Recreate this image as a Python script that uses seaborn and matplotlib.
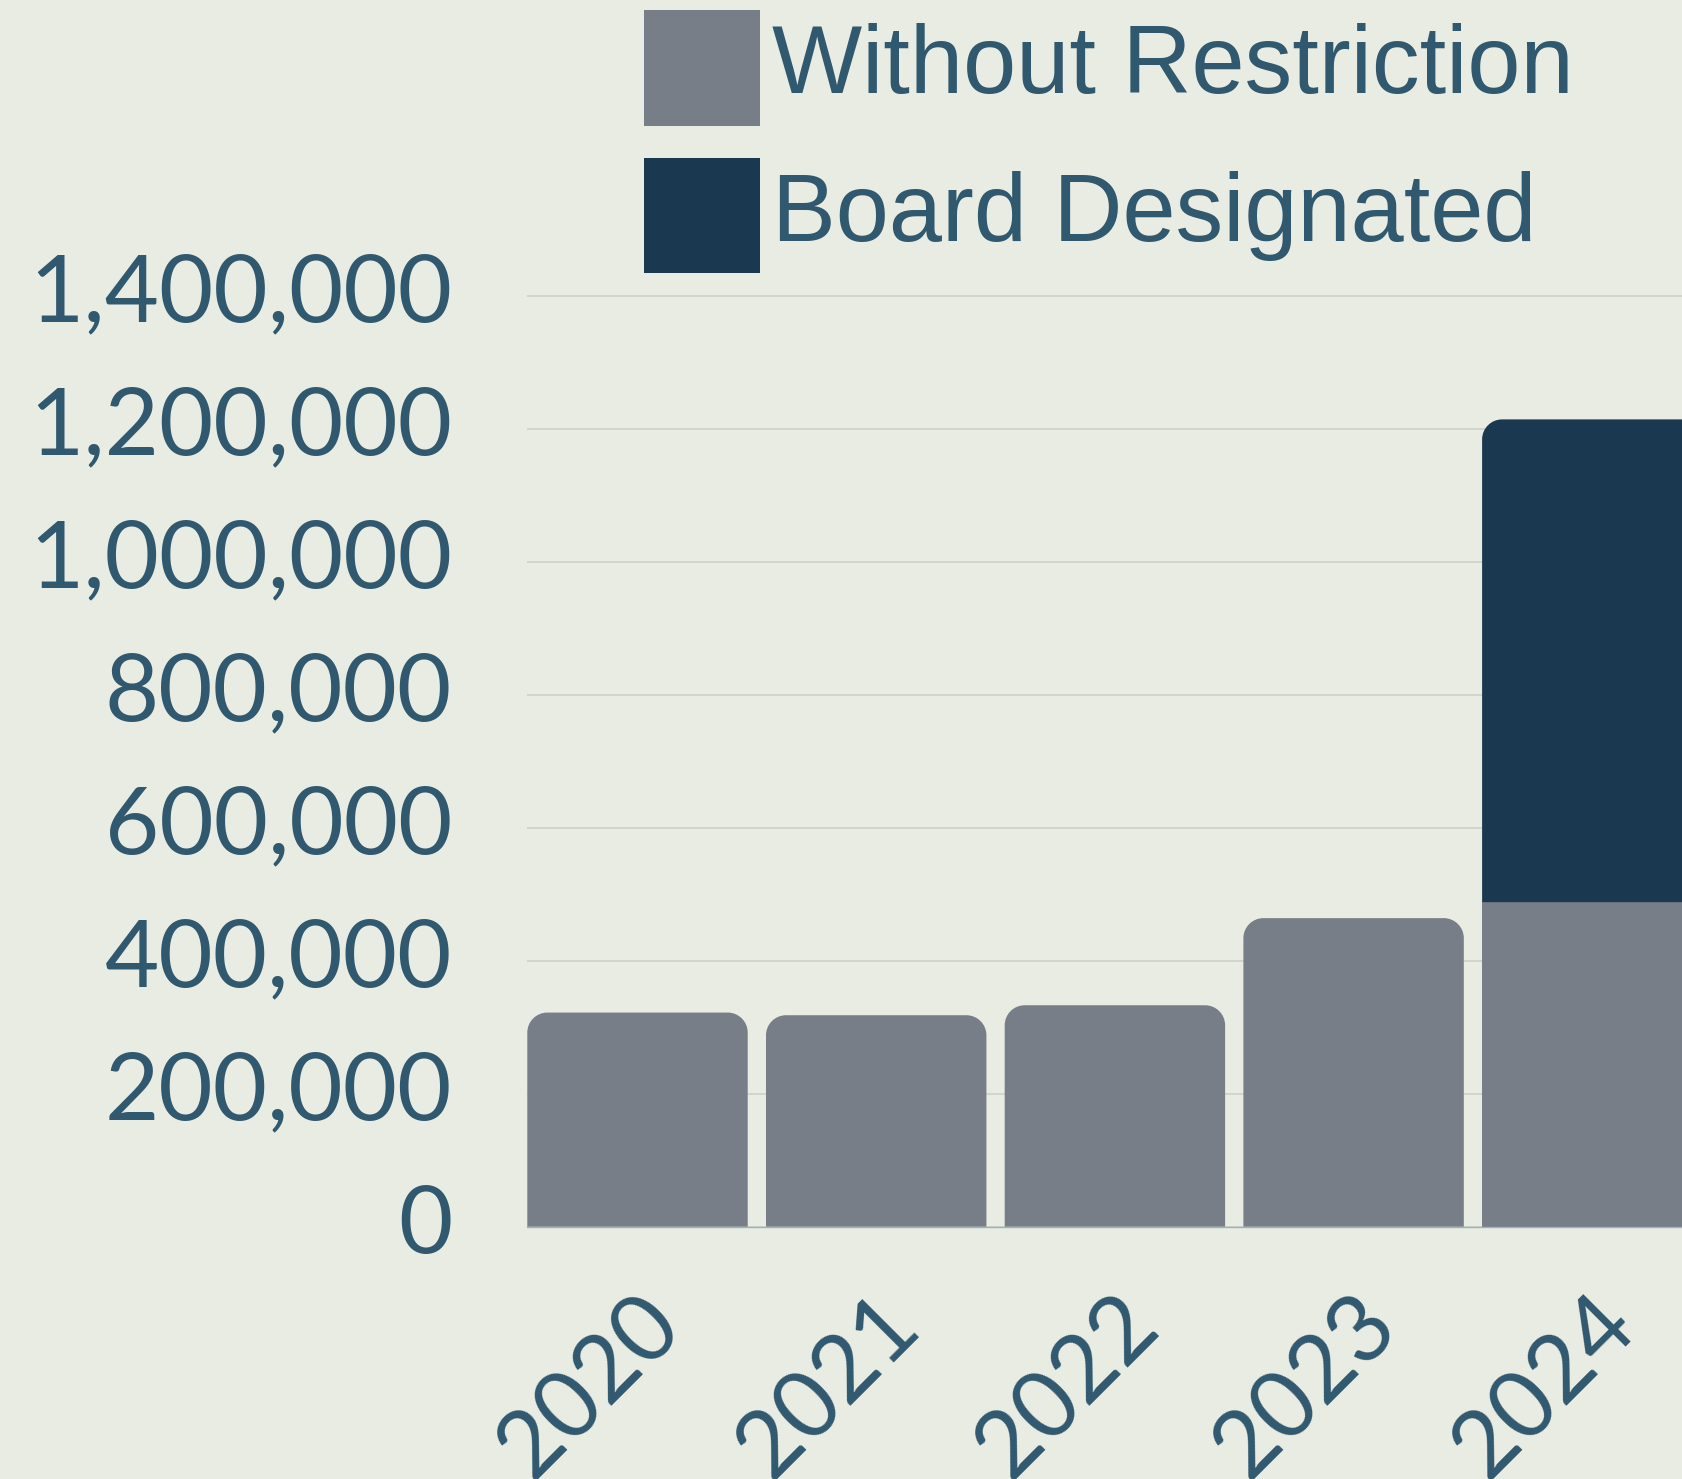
import numpy as np
import pandas as pd
import matplotlib
matplotlib.use("Agg")
import matplotlib.pyplot as plt
import seaborn as sns
from matplotlib.path import Path
from matplotlib.patches import PathPatch, Rectangle
from matplotlib.ticker import FuncFormatter
from matplotlib.transforms import ScaledTranslation

# values
years = ["2020", "2021", "2022", "2023", "2024"]
without_restriction = [322000, 318000, 333000, 464000, 488000]
board_designated = [0, 0, 0, 0, 726000]
y_ticks = [0, 200000, 400000, 600000, 800000, 1000000, 1200000, 1400000]
series_names = ["Without Restriction", "Board Designated"]

BG = "#E9ECE2"
GREY = "#777E87"
DARK = "#1B3851"
TEXT = "#30586F"
GRID = "#CED4CC"

DPI = 100
W_PX, H_PX = 1682, 1479
PX_PER_BAR = 238.7
PX_PER_200K = 133.0
ZERO_Y = 1226.7  # pixel row of the baseline, from the top


def round_top(ax, patch, rx, ry):
    """Swap a bar rectangle for one with rounded top corners"""
    x0, y0 = patch.get_x(), patch.get_y()
    x1, y1 = x0 + patch.get_width(), y0 + patch.get_height()
    k = 0.5523
    verts = [(x0, y0), (x0, y1 - ry),
             (x0, y1 - ry + k * ry), (x0 + rx - k * rx, y1), (x0 + rx, y1),
             (x1 - rx, y1),
             (x1 - rx + k * rx, y1), (x1, y1 - ry + k * ry), (x1, y1 - ry),
             (x1, y0), (x0, y0)]
    codes = [Path.MOVETO, Path.LINETO,
             Path.CURVE4, Path.CURVE4, Path.CURVE4,
             Path.LINETO,
             Path.CURVE4, Path.CURVE4, Path.CURVE4,
             Path.LINETO, Path.CLOSEPOLY]
    new = PathPatch(Path(verts, codes), facecolor=patch.get_facecolor(),
                    linewidth=0, zorder=patch.get_zorder())
    patch.set_visible(False)
    ax.add_patch(new)


sns.set_theme(style="whitegrid", rc={"axes.facecolor": BG, "figure.facecolor": BG,
                                     "grid.color": GRID, "grid.linewidth": 1.3})
plt.rcParams["font.family"] = ["Lato", "DejaVu Sans"]

df = pd.DataFrame({"year": years, "without": without_restriction,
                   "board": board_designated})

fig = plt.figure(figsize=(W_PX / DPI, H_PX / DPI), dpi=DPI)
bar_w = 220.4 / PX_PER_BAR
x_left = -bar_w / 2
x_right = 4.6
y_top = 1402000
ax_w = (x_right - x_left) * PX_PER_BAR / W_PX
ax_h = y_top / 200000 * PX_PER_200K / H_PX
ax = fig.add_axes([527.3 / W_PX, (H_PX - ZERO_Y) / H_PX, ax_w, ax_h])

sns.barplot(data=df, x="year", y="without", color=GREY, width=bar_w,
            saturation=1, linewidth=0, errorbar=None, ax=ax)
sns.barplot(data=df, x="year", y="board", bottom=df["without"], color=DARK,
            width=bar_w, saturation=1, linewidth=0, errorbar=None, ax=ax)

# only the top piece of each stack gets rounded corners (~20px radius)
rx = 20 / PX_PER_BAR
ry = 20 * 200000 / PX_PER_200K
bars = list(ax.patches)
grey_bars, dark_bars = bars[:len(years)], bars[len(years):]
for i, (g, d) in enumerate(zip(grey_bars, dark_bars)):
    if board_designated[i] > 0:
        round_top(ax, d, rx, ry)
    else:
        d.set_visible(False)
        round_top(ax, g, rx, ry)

ax.set_xlim(x_left, x_right)
ax.set_ylim(0, y_top)
ax.set_yticks(y_ticks)
ax.yaxis.set_major_formatter(FuncFormatter(lambda v, p: f"{v:,.0f}"))
ax.set_xlabel("")
ax.set_ylabel("")
ax.grid(axis="x", visible=False)
ax.set_axisbelow(True)
for side in ["top", "right", "left"]:
    ax.spines[side].set_visible(False)
ax.spines["bottom"].set_color("#9DB1BD")
ax.spines["bottom"].set_linewidth(1.0)

ax.tick_params(axis="y", length=0, pad=54, labelsize=67.5, labelcolor=TEXT)
ax.tick_params(axis="x", length=0, pad=60, labelsize=67, labelcolor=TEXT)
lift = ScaledTranslation(0, 8 / DPI, fig.dpi_scale_trans)
for lab in ax.get_yticklabels():
    lab.set_transform(lab.get_transform() + lift)
shift = ScaledTranslation(29 / DPI, 0, fig.dpi_scale_trans)
for lab in ax.get_xticklabels():
    lab.set_rotation(45)
    lab.set_ha("right")
    lab.set_va("center")
    lab.set_rotation_mode("anchor")
    lab.set_transform(lab.get_transform() + shift)

# legend: squares and labels placed in figure pixels
legend_colors = [GREY, DARK]
sq_left, sq_size = 644, 115.5
row_tops = [10, 157.7]
baselines = [93.3, 240.7]
for name, col, top, base in zip(series_names, legend_colors, row_tops, baselines):
    fig.add_artist(Rectangle((sq_left / W_PX, 1 - (top + sq_size) / H_PX),
                             sq_size / W_PX, sq_size / H_PX,
                             transform=fig.transFigure, facecolor=col,
                             edgecolor="none"))
    fig.text(772 / W_PX, 1 - base / H_PX, name, ha="left", va="baseline",
             color=TEXT, fontsize=68.8,
             family=["Liberation Sans", "DejaVu Sans"])

fig.savefig("out.png", dpi=DPI, facecolor=BG)
